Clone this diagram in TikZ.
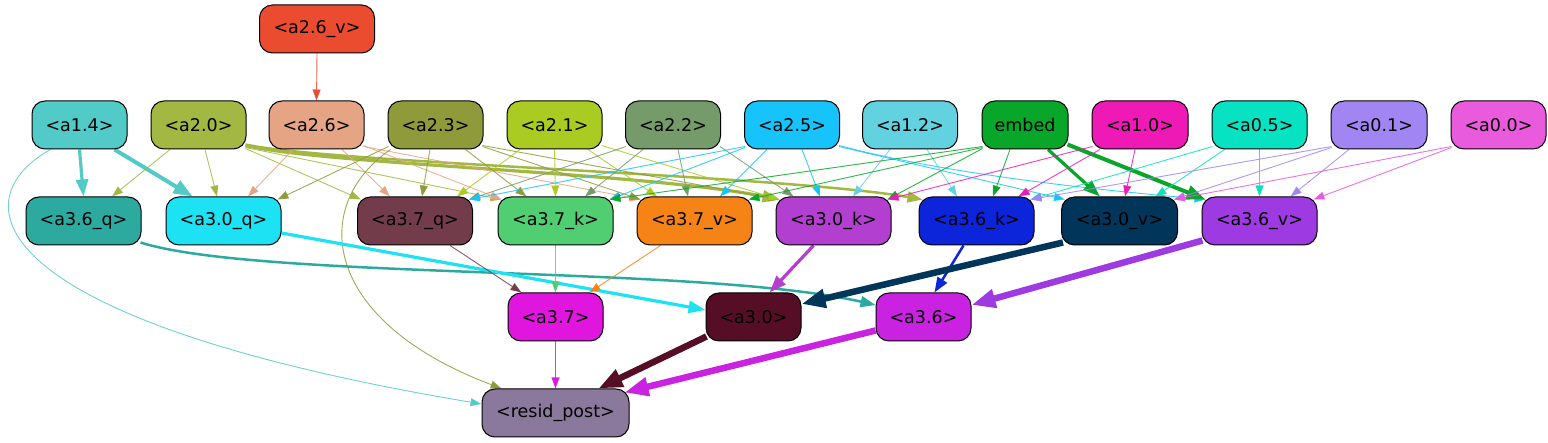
\documentclass[tikz,border=0pt]{standalone}
\usepackage{fontspec}
\setmainfont{DejaVu Sans}
\usetikzlibrary{arrows.meta,calc}
\pgfdeclarelayer{bg}
\pgfsetlayers{bg,main}
\definecolor{c26v}{HTML}{EB4B2F}
\definecolor{c14}{HTML}{52CBC8}
\definecolor{c20}{HTML}{A3B843}
\definecolor{c26}{HTML}{E5A484}
\definecolor{c23}{HTML}{8F9B3A}
\definecolor{c21}{HTML}{AACB22}
\definecolor{c22}{HTML}{769B6A}
\definecolor{c25}{HTML}{16C4FB}
\definecolor{c12}{HTML}{62D1E0}
\definecolor{cemb}{HTML}{08A72A}
\definecolor{c10}{HTML}{EF19B6}
\definecolor{c05}{HTML}{06E2C2}
\definecolor{c01}{HTML}{A085F3}
\definecolor{c00}{HTML}{E95ADC}
\definecolor{c36q}{HTML}{2DAAA0}
\definecolor{c30q}{HTML}{1DE2F3}
\definecolor{c37q}{HTML}{733C4A}
\definecolor{c37k}{HTML}{52CE72}
\definecolor{c37v}{HTML}{F68316}
\definecolor{c30k}{HTML}{B23FCF}
\definecolor{c36k}{HTML}{0C24DA}
\definecolor{c30v}{HTML}{02355A}
\definecolor{c36v}{HTML}{9E3AE1}
\definecolor{c37}{HTML}{E016DF}
\definecolor{c30}{HTML}{560E27}
\definecolor{c36}{HTML}{C922E0}
\definecolor{cres}{HTML}{8A789D}
\begin{document}
\begin{tikzpicture}[x=1pt,y=-1pt,
  nd/.style={draw=black, line width=1pt, rounded corners=13pt, minimum height=48pt,
    minimum width=95pt, inner sep=0pt, font=\fontsize{17.5}{21}\selectfont, text=black},
  wq/.style={minimum width=115pt},
  e/.style={line width=0.9pt, draw opacity=0.85, -{Triangle[length=11pt,width=8pt]}},
  e2/.style={line width=2.5pt, -{Triangle[length=15pt,width=11pt]}},
  e3/.style={line width=3.2pt, -{Triangle[length=17pt,width=12pt]}},
  e4/.style={line width=4pt, -{Triangle[length=19pt,width=14pt]}},
  e6/.style={line width=6.5pt, -{Triangle[length=24pt,width=18pt]}}
]
\useasboundingbox (0,0) rectangle (1548,443);
% row 0
\node[nd, wq, fill=c26v] (a26v) at (317,29) {<a2.6\_v>};
% row 1
\node[nd, fill=c14] (a14) at (79.5,125) {<a1.4>};
\node[nd, fill=c20] (a20) at (198.5,125) {<a2.0>};
\node[nd, fill=c26] (a26) at (316.5,125) {<a2.6>};
\node[nd, fill=c23] (a23) at (435.5,125) {<a2.3>};
\node[nd, fill=c21] (a21) at (554.5,125) {<a2.1>};
\node[nd, fill=c22] (a22) at (673,125) {<a2.2>};
\node[nd, fill=c25] (a25) at (792,125) {<a2.5>};
\node[nd, fill=c12] (a12) at (910,125) {<a1.2>};
\node[nd, fill=cemb, minimum width=86pt] (emb) at (1025,125) {embed};
\node[nd, fill=c10, minimum width=96pt] (a10) at (1140,125) {<a1.0>};
\node[nd, fill=c05] (a05) at (1259.5,125) {<a0.5>};
\node[nd, fill=c01, minimum width=96pt] (a01) at (1379,125) {<a0.1>};
\node[nd, fill=c00] (a00) at (1498.5,125) {<a0.0>};
% row 2
\node[nd, wq, fill=c36q] (a36q) at (83.5,221) {<a3.6\_q>};
\node[nd, wq, fill=c30q] (a30q) at (223.5,221) {<a3.0\_q>};
\node[nd, wq, fill=c37q] (a37q) at (415,221) {<a3.7\_q>};
\node[nd, wq, fill=c37k] (a37k) at (555.5,221) {<a3.7\_k>};
\node[nd, wq, fill=c37v] (a37v) at (694.5,221) {<a3.7\_v>};
\node[nd, wq, fill=c30k] (a30k) at (833.5,221) {<a3.0\_k>};
\node[nd, wq, fill=c36k] (a36k) at (976.5,221) {<a3.6\_k>};
\node[nd, fill=c30v, minimum width=116pt] (a30v) at (1119.5,221) {<a3.0\_v>};
\node[nd, wq, fill=c36v] (a36v) at (1259.5,221) {<a3.6\_v>};
% row 3
\node[nd, fill=c37] (a37) at (555.5,317) {<a3.7>};
\node[nd, fill=c30] (a30) at (753.5,317) {<a3.0>};
\node[nd, fill=c36] (a36) at (923.5,317) {<a3.6>};
% row 4
\node[nd, fill=cres, minimum width=147pt] (resid) at (555.5,413) {<resid\_post>};

\begin{pgfonlayer}{bg}
\draw[e,c26v] (a26v.south) -- (a26.north);
% a1.4
\draw[e3,c14] (a14.south) -- (a36q.north);
\draw[e4,c14] ([xshift=35pt]a14.south) -- ([xshift=-31pt]a30q.north);
\draw[e,c14] ([xshift=-29pt]a14.south) .. controls (-40,200) and (-20,320) .. ([yshift=9pt]resid.west);
% a2.0
\draw[e,c20] ([xshift=-28.5pt]a20.south) -- ([xshift=28.5pt]a36q.north);
\draw[e,c20] ([xshift=6.5pt]a20.south) -- ([xshift=-6.5pt]a30q.north);
\draw[e,c20] ([shift={(-1,-1)}]a20.south east) -- ([shift={(4,3)}]a37q.north west);
\draw[e,c20] ([shift={(-1,-2)}]a20.south east) -- ([shift={(4,3)}]a37k.north west);
\draw[e3,c20] ([shift={(-1,-4)}]a20.south east) .. controls (330,165) and (640,172) .. ([shift={(4,3)}]a30k.north west);
\draw[e2,c20] ([shift={(-1,-5)}]a20.south east) .. controls (330,163) and (780,175) .. ([shift={(4,3)}]a36k.north west);
% a2.6
\draw[e,c26] ([xshift=-23.5pt]a26.south) -- ([xshift=24.5pt]a30q.north);
\draw[e,c26] ([xshift=25.5pt]a26.south) -- ([xshift=-25pt]a37q.north);
\draw[e,c26] ([shift={(-1,-4)}]a26.south east) -- ([shift={(4,3)}]a37k.north west);
\draw[e,c26] ([shift={(-1,-3)}]a26.south east) -- ([shift={(4,3)}]a37v.north west);
% a2.3
\draw[e,c23] ([shift={(1,-3)}]a23.south west) -- ([shift={(-4,3)}]a30q.north east);
\draw[e,c23] ([xshift=-5.5pt]a23.south) -- ([xshift=7pt]a37q.north);
\draw[e,c23] ([xshift=30pt]a23.south) -- ([xshift=-29pt]a37k.north);
\draw[e,c23] ([shift={(-1,-3)}]a23.south east) -- ([shift={(4,3)}]a37v.north west);
\draw[e,c23] ([shift={(-1,-4)}]a23.south east) -- ([shift={(4,3)}]a30k.north west);
\draw[e,c23] ([xshift=-45pt]a23.south) .. controls (310,205) and (320,320) .. ([xshift=20pt]resid.north west);
% a2.1
\draw[e,c21] ([xshift=-34.5pt]a21.south) -- ([xshift=42pt]a37q.north);
\draw[e,c21] (a21.south) -- (a37k.north);
\draw[e,c21] ([xshift=33.5pt]a21.south) -- ([xshift=-37.5pt]a37v.north);
\draw[e,c21] ([shift={(-1,-4)}]a21.south east) -- ([shift={(4,3)}]a30k.north west);
% a2.2
\draw[e,c22] ([shift={(1,-3)}]a22.south west) -- ([shift={(-4,3)}]a37q.north east);
\draw[e,c22] ([xshift=-30pt]a22.south) -- ([xshift=29.5pt]a37k.north);
\draw[e,c22] ([xshift=5pt]a22.south) -- ([xshift=-6.5pt]a37v.north);
\draw[e,c22] ([shift={(-1,-3)}]a22.south east) -- ([xshift=-40pt]a30k.north);
% a2.5
\draw[e,c25] ([shift={(1,-3)}]a25.south west) -- ([shift={(-4,3)}]a37q.north east);
\draw[e,c25] ([shift={(1,-2)}]a25.south west) -- ([shift={(-4,3)}]a37k.north east);
\draw[e,c25] ([xshift=-25pt]a25.south) -- ([xshift=25.5pt]a37v.north);
\draw[e,c25] ([xshift=10pt]a25.south) -- ([xshift=-13.5pt]a30k.north);
\draw[e,c25] ([shift={(-1,-3)}]a25.south east) -- ([shift={(4,3)}]a30v.north west);
\draw[e,c25] ([shift={(-1,-4)}]a25.south east) .. controls (950,175) and (1100,190) .. ([shift={(4,3)}]a36v.north west);
% a1.2
\draw[e,c12] ([xshift=-20pt]a12.south) -- ([xshift=19.5pt]a30k.north);
\draw[e,c12] ([xshift=17pt]a12.south) -- ([xshift=-19.5pt]a36k.north);
% embed
\draw[e,cemb] ([shift={(1,-3)}]emb.south west) -- ([shift={(-4,3)}]a37k.north east);
\draw[e,cemb] ([shift={(1,-2)}]emb.south west) -- ([shift={(-4,3)}]a37v.north east);
\draw[e,cemb] ([shift={(1,-1)}]emb.south west) -- ([shift={(-4,3)}]a30k.north east);
\draw[e,cemb] ([xshift=-15pt]emb.south) -- ([xshift=16.5pt]a36k.north);
\draw[e3,cemb] ([xshift=23pt]emb.south) -- ([xshift=-19.5pt]a30v.north);
\draw[e4,cemb] ([shift={(-1,-5)}]emb.south east) -- ([shift={(4,3)}]a36v.north west);
% a1.0
\draw[e,c10] ([shift={(1,-3)}]a10.south west) -- ([shift={(-4,3)}]a30k.north east);
\draw[e,c10] ([xshift=-40pt]a10.south) -- ([xshift=42pt]a36k.north);
\draw[e,c10] ([xshift=-5pt]a10.south) -- ([xshift=5.5pt]a30v.north);
% a0.5
\draw[e,c05] ([shift={(1,-3)}]a05.south west) -- ([shift={(-4,3)}]a36k.north east);
\draw[e,c05] ([xshift=-35pt]a05.south) -- ([xshift=36pt]a30v.north);
\draw[e,c05] (a05.south) -- (a36v.north);
% a0.1
\draw[e,c01] ([shift={(1,-3)}]a01.south west) -- ([shift={(-4,3)}]a36k.north east);
\draw[e,c01] ([shift={(1,-2)}]a01.south west) -- ([shift={(-4,3)}]a30v.north east);
\draw[e,c01] ([xshift=-30pt]a01.south) -- ([xshift=31pt]a36v.north);
% a0.0
\draw[e,c00] ([shift={(1,-3)}]a00.south west) -- ([shift={(-4,3)}]a30v.north east);
\draw[e,c00] ([shift={(1,-2)}]a00.south west) -- ([shift={(-4,3)}]a36v.north east);
% level 2
\draw[e2,c36q] ([shift={(-1,-3)}]a36q.south east) .. controls (260,280) and (700,265) .. ([yshift=12pt]a36.west);
\draw[e3,c30q] ([yshift=-12pt]a30q.east) -- ([yshift=7pt]a30.west);
\draw[e,c37q] ([xshift=35pt]a37q.south) -- ([xshift=-34pt]a37.north);
\draw[e,c37k] (a37k.south) -- (a37.north);
\draw[e,c37v] ([xshift=-34pt]a37v.south) -- ([xshift=34pt]a37.north);
\draw[e3,c30k] ([xshift=-20pt]a30k.south) -- ([xshift=16pt]a30.north);
\draw[e2,c36k] ([xshift=-13pt]a36k.south) -- ([xshift=11pt]a36.north);
\draw[e6,c30v] ([shift={(2,-3)}]a30v.south west) -- ([yshift=13pt]a30.east);
\draw[e6,c36v] ([shift={(1,-5)}]a36v.south west) -- ([yshift=12pt]a36.east);
% level 3
\draw[e,c37] (a37.south) -- (resid.north);
\draw[e6,c30] ([shift={(1,-5)}]a30.south west) -- ([xshift=43pt]resid.north);
\draw[e6,c36] ([yshift=11pt]a36.south west) -- ([shift={(-5,4)}]resid.north east);
\end{pgfonlayer}
\end{tikzpicture}
\end{document}
